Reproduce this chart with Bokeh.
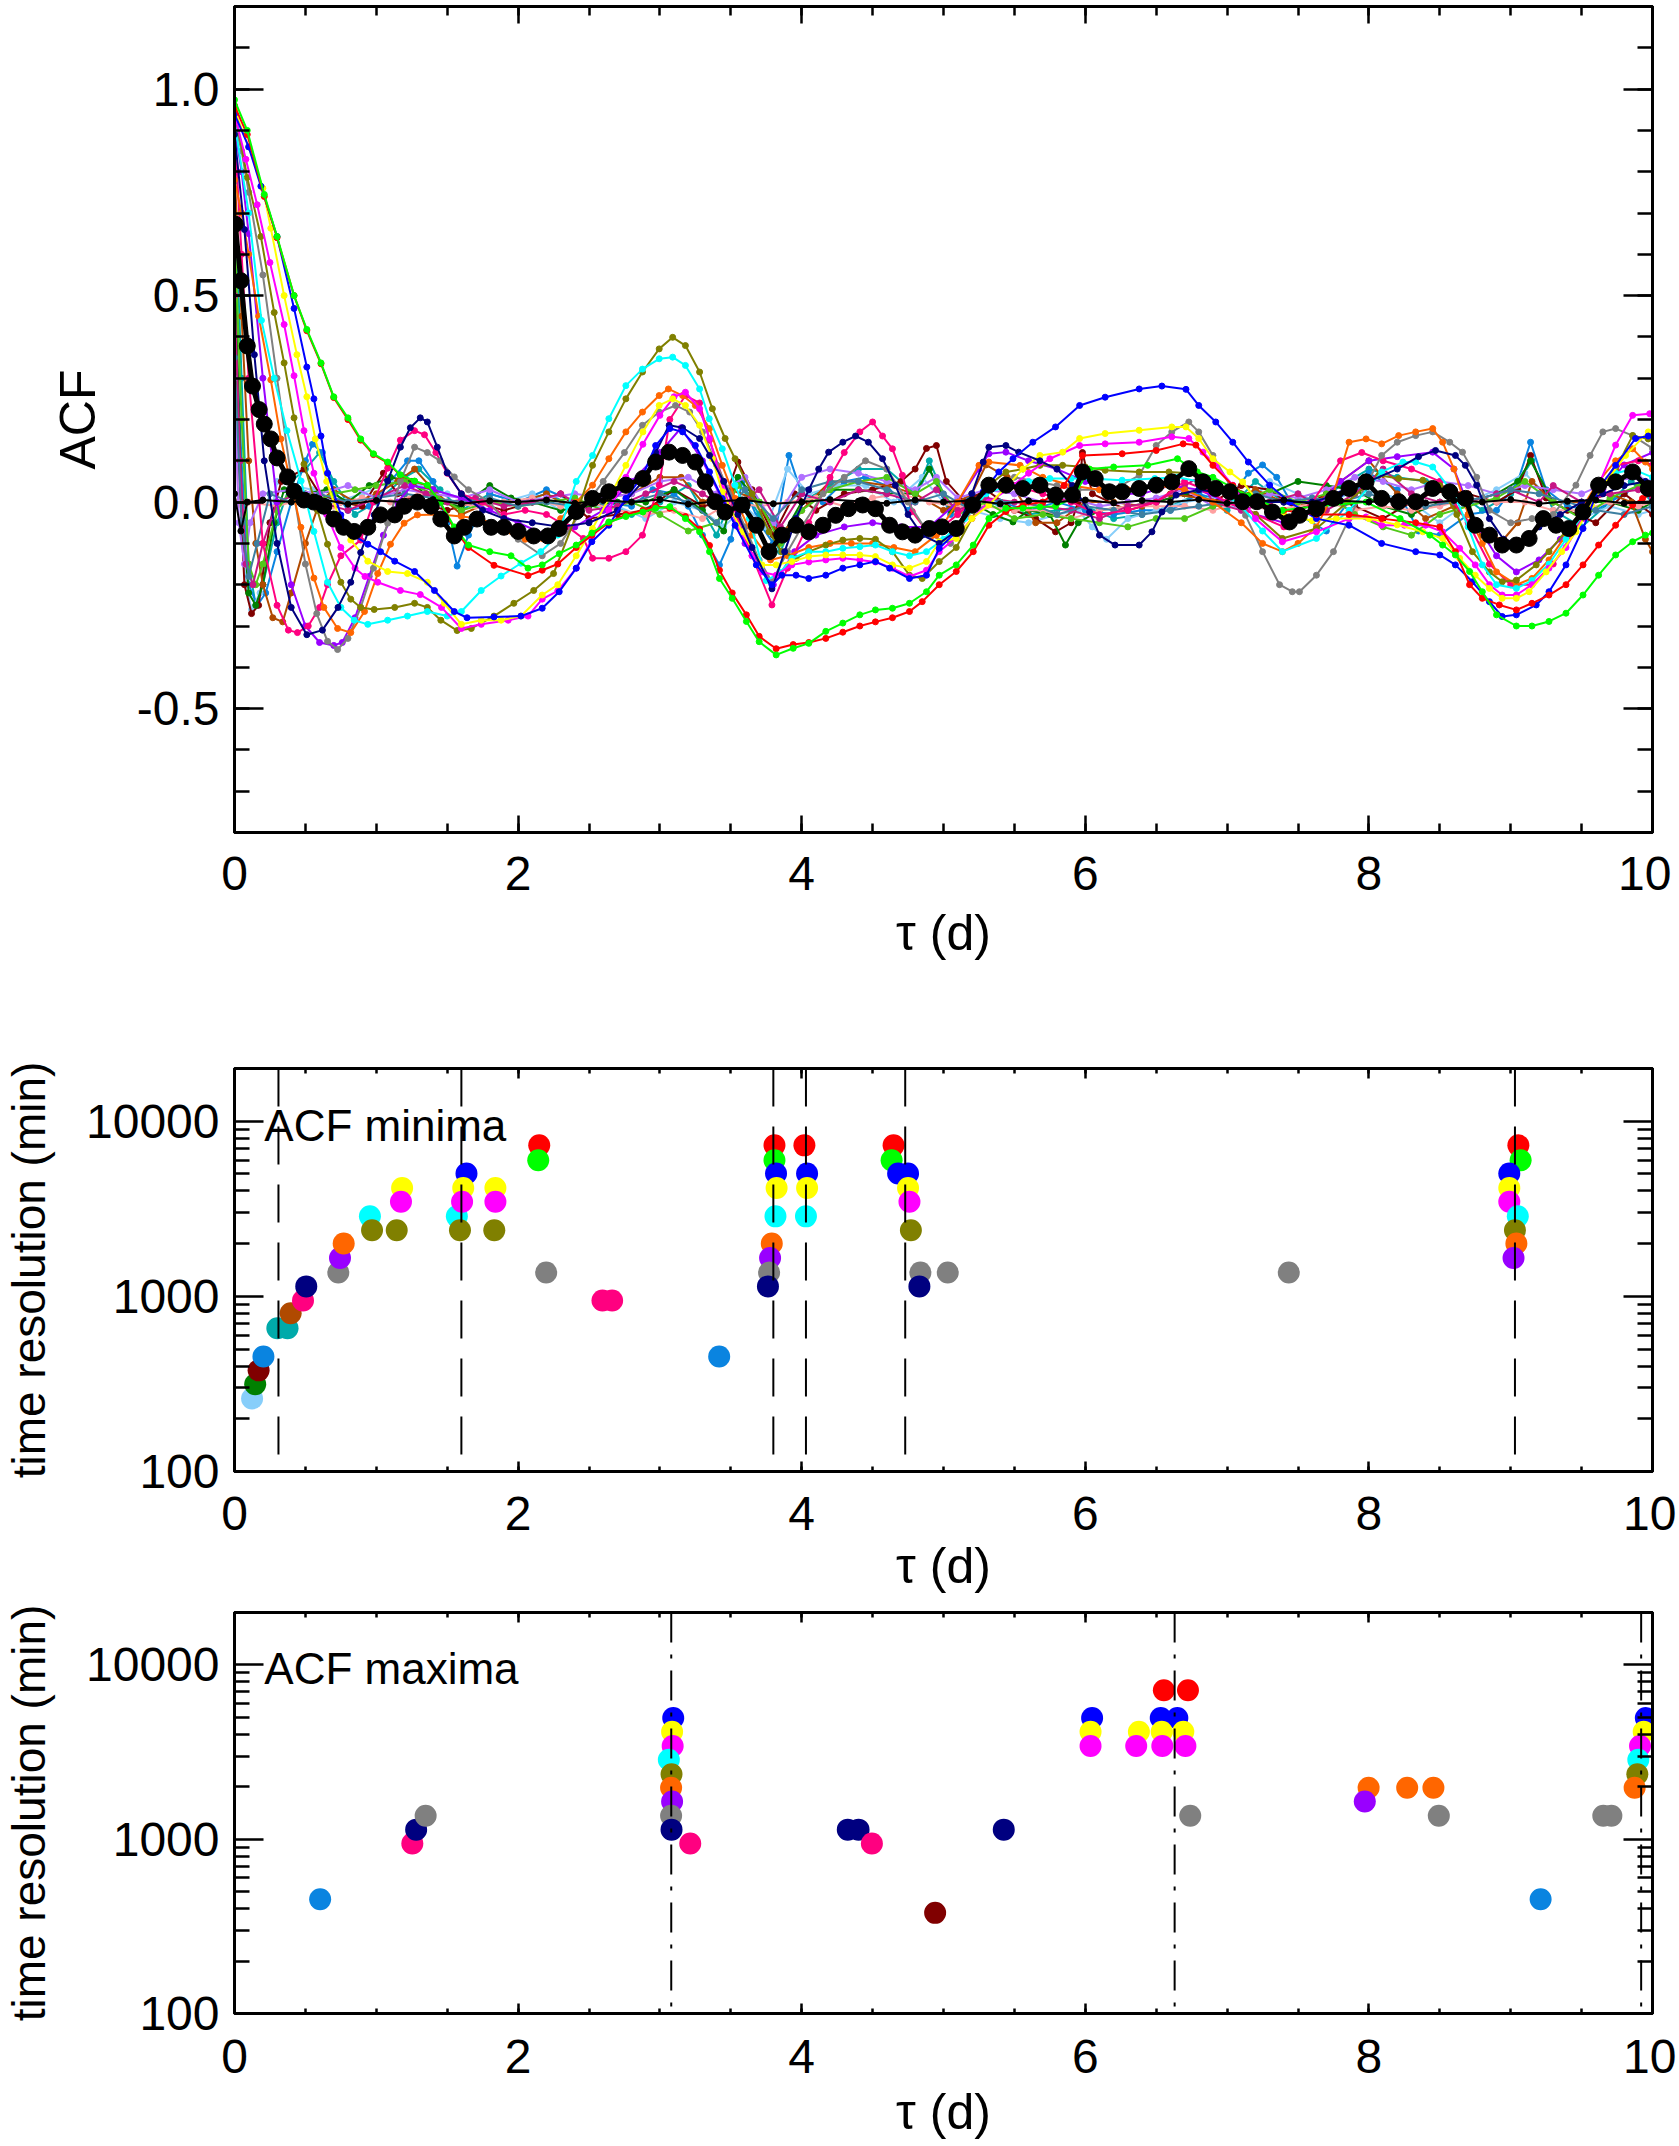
from bokeh.plotting import figure
from bokeh.layouts import column
from bokeh.models import FixedTicker, PrintfTickFormatter, LinearAxis, LogAxis, Span
from bokeh.core.properties import value
from bokeh.embed import file_html
from bokeh.resources import INLINE

FONT = "Liberation Sans"

COLORS = {
    "green": "#00FF00", "red": "#FF0000", "blue": "#0000FF", "navy": "#000080",
    "yellow": "#FFFF00", "magenta": "#FF00FF", "cyan": "#00FFFF", "olive": "#808000",
    "orange": "#FF6600", "gray": "#808080", "pink": "#FF0080", "purple": "#9900FF",
    "teal": "#00AAAA", "dodger": "#0A84E0", "skyblue": "#87CEFA", "maroon": "#800000",
    "darkgreen": "#008000", "brown": "#B04A00", "salmon": "#FFA0A0",
    "mpurple": "#B070FF", "ygreen": "#50C818", "mvred": "#C71585", "steel": "#3E7FA0",
    "black": "#000000",
}

# ---------------- ACF curves (tau [d], ACF) ----------------
green = [(0.0,0.974),(0.09,0.90),(0.21,0.745),(0.30,0.643),(0.42,0.50),(0.51,0.418),(0.61,0.337),(0.70,0.255),(0.80,0.204),(0.89,0.153),
         (0.98,0.117),(1.08,0.097),(1.17,0.066),(1.27,0.051),(1.36,0.041),(1.45,0.0),(1.55,-0.06),(1.65,-0.104),(1.80,-0.12),(1.95,-0.13),
         (2.07,-0.16),(2.17,-0.152),(2.29,-0.125),(2.41,-0.104),(2.52,-0.075),(2.64,-0.048),(2.76,-0.035),(2.88,-0.024),(2.97,-0.015),(3.07,-0.011),
         (3.18,-0.04),(3.28,-0.072),(3.35,-0.12),(3.42,-0.185),(3.51,-0.233),(3.61,-0.289),(3.70,-0.338),(3.82,-0.37),(3.94,-0.354),(4.05,-0.342),
         (4.17,-0.313),(4.29,-0.293),(4.41,-0.273),(4.52,-0.261),(4.64,-0.257),(4.76,-0.245),(4.88,-0.217),(4.97,-0.177),(5.09,-0.152),(5.21,-0.104),
         (5.32,-0.04),(5.44,-0.015),(5.56,-0.015),(5.68,-0.012),(5.79,-0.01),(5.91,0.01),(6.03,0.08),(6.20,0.085),(6.44,0.089),(6.65,0.105),
         (6.79,0.073),(6.90,0.06),(7.04,0.035),(7.15,0.015),(7.39,-0.02),(7.63,-0.01),(7.98,0.0),(8.22,-0.04),(8.43,-0.08),(8.52,-0.104),
         (8.61,-0.128),(8.71,-0.168),(8.80,-0.217),(8.90,-0.273),(9.04,-0.30),(9.15,-0.30),(9.27,-0.289),(9.39,-0.269),(9.51,-0.225),(9.62,-0.177),
         (9.74,-0.128),(9.86,-0.096),(9.95,-0.08),(10.0,-0.075)]
red = [(0.0,0.96),(0.09,0.89),(0.21,0.74),(0.30,0.64),(0.42,0.50),(0.51,0.415),(0.61,0.335),(0.70,0.253),(0.80,0.2),(0.89,0.15),(0.98,0.115),
       (1.08,0.095),(1.17,0.065),(1.27,0.05),(1.36,0.04),(1.45,0.0),(1.55,-0.065),(1.65,-0.11),(1.83,-0.153),(2.07,-0.178),(2.17,-0.165),
       (2.28,-0.15),(2.41,-0.11),(2.52,-0.08),(2.64,-0.05),(2.76,-0.03),(2.88,-0.02),(2.97,-0.01),(3.07,-0.015),(3.18,-0.035),(3.28,-0.065),
       (3.35,-0.105),(3.42,-0.165),(3.51,-0.22),(3.61,-0.273),(3.70,-0.325),(3.82,-0.355),(3.94,-0.345),(4.05,-0.34),(4.17,-0.33),(4.29,-0.315),
       (4.41,-0.30),(4.52,-0.29),(4.64,-0.28),(4.76,-0.265),(4.85,-0.241),(4.97,-0.2),(5.09,-0.168),(5.21,-0.12),(5.32,-0.056),(5.44,-0.023),
       (5.56,-0.007),(5.70,0.0),(5.85,0.04),(5.98,0.113),(6.26,0.117),(6.50,0.125),(6.69,0.141),(6.78,0.138),(6.90,0.089),(7.04,0.04),
       (7.20,0.0),(7.40,-0.02),(7.63,-0.03),(7.86,-0.03),(8.09,-0.04),(8.33,-0.05),(8.50,-0.06),(8.61,-0.12),(8.71,-0.2),(8.80,-0.233),
       (8.92,-0.249),(9.04,-0.261),(9.15,-0.245),(9.27,-0.225),(9.39,-0.2),(9.51,-0.152),(9.62,-0.104),(9.74,-0.056),(9.86,-0.007),(9.93,0.009),(10.0,0.02)]
blue = [(0.0,0.94),(0.1,0.86),(0.186,0.765),(0.30,0.643),(0.42,0.469),(0.51,0.327),(0.56,0.25),(0.61,0.16),(0.656,0.07),(0.75,-0.031),
        (0.844,-0.082),(0.94,-0.102),(1.03,-0.12),(1.13,-0.143),(1.27,-0.168),(1.41,-0.214),(1.55,-0.265),(1.64,-0.28),(1.83,-0.278),(2.02,-0.276),
        (2.17,-0.257),(2.29,-0.217),(2.41,-0.16),(2.52,-0.096),(2.64,-0.056),(2.76,0.009),(2.88,0.065),(2.97,0.137),(3.07,0.178),(3.16,0.17),
        (3.25,0.137),(3.35,0.073),(3.44,0.009),(3.53,-0.056),(3.68,-0.152),(3.79,-0.2),(3.86,-0.177),(3.96,-0.177),(4.05,-0.185),(4.17,-0.177),
        (4.29,-0.16),(4.41,-0.152),(4.52,-0.144),(4.62,-0.16),(4.76,-0.185),(4.88,-0.177),(4.97,-0.112),(5.09,-0.072),(5.20,-0.01),(5.28,0.025),
        (5.39,0.073),(5.49,0.105),(5.63,0.145),(5.79,0.182),(5.96,0.234),(6.14,0.254),(6.38,0.274),(6.54,0.281),(6.71,0.273),(6.80,0.234),
        (6.92,0.194),(7.04,0.145),(7.15,0.097),(7.30,0.041),(7.44,0.0),(7.63,-0.04),(7.86,-0.056),(8.09,-0.1),(8.33,-0.12),(8.50,-0.128),
        (8.61,-0.152),(8.73,-0.193),(8.85,-0.241),(8.94,-0.277),(9.04,-0.273),(9.18,-0.249),(9.27,-0.217),(9.39,-0.152),(9.51,-0.064),(9.62,0.033),
        (9.74,0.089),(9.88,0.154),(9.97,0.16)]
navy = [(0.0,0.89),(0.07,0.66),(0.14,0.357),(0.21,0.10),(0.30,-0.10),(0.40,-0.255),(0.51,-0.321),(0.62,-0.31),(0.73,-0.255),(0.82,-0.194),
        (0.89,-0.122),(0.985,-0.031),(1.08,0.051),(1.17,0.133),(1.24,0.18),(1.31,0.204),(1.36,0.194),(1.43,0.133),(1.50,0.071),(1.60,0.02),
        (1.75,-0.02),(1.90,-0.04),(2.1,-0.05),(2.3,-0.06),(2.5,-0.05),(2.7,-0.02),(2.88,0.05),(2.97,0.12),(3.065,0.186),(3.16,0.18),
        (3.28,0.154),(3.35,0.113),(3.45,0.05),(3.55,-0.03),(3.65,-0.11),(3.79,-0.21),(3.88,-0.12),(3.96,-0.04),(4.05,0.03),(4.12,0.08),
        (4.19,0.121),(4.29,0.145),(4.38,0.16),(4.47,0.145),(4.57,0.105),(4.66,0.041),(4.75,-0.03),(4.85,-0.08),(4.97,-0.1),(5.09,-0.07),
        (5.20,0.02),(5.28,0.097),(5.32,0.133),(5.44,0.137),(5.53,0.121),(5.68,0.1),(5.80,0.08),(5.91,0.04),(6.03,-0.024),(6.10,-0.08),
        (6.21,-0.104),(6.38,-0.104),(6.47,-0.072),(6.54,-0.024),(6.64,0.017),(6.8,0.03),(7.0,0.02),(7.2,0.0),(7.4,0.0),(7.6,0.0),
        (7.8,0.02),(8.0,0.05),(8.2,0.08),(8.35,0.11),(8.47,0.125),(8.61,0.113),(8.68,0.089),(8.76,0.041),(8.85,-0.04),(8.95,-0.09),
        (9.05,-0.1),(9.2,-0.06),(9.35,-0.03),(9.5,0.0),(9.65,0.02),(9.8,0.04),(9.95,0.05)]
yellow = [(0.0,0.95),(0.1,0.86),(0.2,0.76),(0.256,0.663),(0.35,0.50),(0.44,0.357),(0.51,0.255),(0.57,0.153),(0.65,0.05),(0.73,-0.03),
          (0.82,-0.092),(0.94,-0.143),(1.08,-0.168),(1.22,-0.173),(1.36,-0.194),(1.48,-0.245),(1.60,-0.296),(1.74,-0.286),(1.88,-0.286),(2.02,-0.276),
          (2.17,-0.225),(2.28,-0.2),(2.41,-0.13),(2.525,-0.064),(2.64,0.009),(2.76,0.089),(2.88,0.17),(2.995,0.234),(3.09,0.25),(3.18,0.234),
          (3.28,0.186),(3.37,0.105),(3.44,0.025),(3.58,-0.072),(3.72,-0.152),(3.82,-0.152),(3.93,-0.144),(4.05,-0.132),(4.17,-0.128),(4.29,-0.128),
          (4.41,-0.128),(4.52,-0.132),(4.64,-0.152),(4.76,-0.16),(4.88,-0.144),(4.97,-0.096),(5.09,-0.088),(5.2,-0.04),(5.32,-0.007),(5.45,0.04),
          (5.56,0.08),(5.68,0.113),(5.84,0.121),(5.96,0.154),(6.14,0.166),(6.38,0.174),(6.61,0.182),(6.71,0.182),(6.80,0.154),(6.90,0.105),
          (7.02,0.073),(7.11,0.049),(7.2,0.009),(7.4,-0.03),(7.6,-0.045),(7.77,-0.04),(8.0,-0.04),(8.2,-0.055),(8.38,-0.072),(8.52,-0.088),
          (8.64,-0.136),(8.75,-0.177),(8.85,-0.209),(8.94,-0.233),(9.04,-0.233),(9.13,-0.217),(9.25,-0.169),(9.36,-0.12),(9.46,-0.072),(9.57,-0.007),
          (9.69,0.057),(9.81,0.113),(9.97,0.17)]
magenta = [(0.0,0.94),(0.08,0.83),(0.16,0.72),(0.25,0.58),(0.35,0.43),(0.42,0.306),(0.49,0.173),(0.56,0.07),(0.65,-0.03),(0.75,-0.11),
           (0.85,-0.16),(0.92,-0.18),(1.01,-0.194),(1.17,-0.214),(1.31,-0.224),(1.46,-0.255),(1.60,-0.306),(1.74,-0.296),(1.93,-0.286),(2.07,-0.276),
           (2.17,-0.235),(2.28,-0.215),(2.41,-0.16),(2.52,-0.09),(2.64,-0.02),(2.76,0.06),(2.88,0.14),(3.0,0.21),(3.1,0.255),(3.18,0.266),
           (3.28,0.226),(3.35,0.154),(3.44,0.04),(3.55,-0.06),(3.65,-0.13),(3.72,-0.169),(3.82,-0.177),(3.93,-0.152),(4.05,-0.145),(4.17,-0.14),
           (4.29,-0.136),(4.41,-0.14),(4.52,-0.145),(4.64,-0.16),(4.76,-0.18),(4.88,-0.165),(4.97,-0.12),(5.09,-0.085),(5.2,-0.04),(5.32,0.0),
           (5.45,0.03),(5.6,0.07),(5.75,0.105),(5.96,0.137),(6.14,0.141),(6.38,0.145),(6.61,0.158),(6.73,0.154),(6.83,0.121),(6.92,0.089),
           (7.04,0.041),(7.2,-0.04),(7.39,-0.096),(7.63,-0.072),(7.86,-0.04),(7.98,-0.036),(8.09,-0.056),(8.25,-0.056),(8.40,-0.056),(8.52,-0.072),
           (8.64,-0.112),(8.75,-0.152),(8.85,-0.2),(8.94,-0.225),(9.04,-0.225),(9.15,-0.2),(9.27,-0.16),(9.39,-0.11),(9.51,-0.04),(9.62,0.041),
           (9.74,0.138),(9.86,0.21),(9.98,0.214)]
cyan = [(0.0,0.92),(0.1,0.70),(0.19,0.44),(0.28,0.30),(0.37,0.173),(0.47,0.051),(0.56,-0.071),(0.656,-0.194),(0.75,-0.255),(0.844,-0.286),
        (0.94,-0.296),(1.08,-0.286),(1.22,-0.276),(1.36,-0.265),(1.50,-0.276),(1.60,-0.265),(1.74,-0.214),(1.88,-0.179),(2.02,-0.148),(2.16,-0.12),
        (2.28,-0.08),(2.35,-0.01),(2.41,0.05),(2.525,0.113),(2.64,0.202),(2.76,0.282),(2.877,0.322),(2.995,0.347),(3.09,0.351),(3.18,0.331),
        (3.28,0.274),(3.348,0.202),(3.44,0.129),(3.53,0.041),(3.63,-0.04),(3.75,-0.19),(3.85,-0.17),(3.93,-0.136),(4.05,-0.12),(4.17,-0.12),
        (4.29,-0.112),(4.41,-0.108),(4.52,-0.104),(4.64,-0.12),(4.76,-0.13),(4.88,-0.12),(5.0,-0.09),(5.15,-0.04),(5.3,0.02),(5.45,0.04),
        (5.6,0.05),(5.75,0.057),(5.9,0.057),(6.03,0.057),(6.26,0.053),(6.49,0.057),(6.65,0.06),(6.8,0.05),(6.95,0.03),(7.1,-0.01),
        (7.25,-0.07),(7.39,-0.12),(7.63,-0.088),(7.86,-0.02),(8.09,0.073),(8.24,0.097),(8.33,0.097),(8.45,0.085),(8.6,0.02),(8.70,-0.06),
        (8.80,-0.152),(8.90,-0.2),(9.04,-0.209),(9.15,-0.19),(9.27,-0.15),(9.39,-0.09),(9.51,-0.03),(9.62,0.03),(9.74,0.07),(9.86,0.08),(10.0,0.06)]
olive = [(0.0,0.95),(0.09,0.786),(0.186,0.643),(0.28,0.459),(0.35,0.337),(0.42,0.204),(0.49,0.092),(0.585,-0.02),(0.656,-0.102),(0.75,-0.194),
         (0.82,-0.235),(0.89,-0.255),(0.985,-0.26),(1.13,-0.255),(1.27,-0.245),(1.36,-0.255),(1.455,-0.286),(1.57,-0.311),(1.67,-0.306),(1.83,-0.276),
         (1.97,-0.245),(2.11,-0.214),(2.25,-0.173),(2.41,-0.032),(2.525,0.089),(2.64,0.17),(2.76,0.25),(2.877,0.315),(2.995,0.371),(3.09,0.399),
         (3.18,0.379),(3.28,0.315),(3.37,0.226),(3.46,0.154),(3.53,0.105),(3.65,0.02),(3.77,-0.072),(3.86,-0.12),(3.96,-0.136),(4.05,-0.12),
         (4.17,-0.104),(4.29,-0.092),(4.41,-0.088),(4.52,-0.09),(4.64,-0.12),(4.76,-0.177),(4.85,-0.185),(4.97,-0.144),(5.09,-0.11),(5.2,-0.04),
         (5.32,0.041),(5.44,0.073),(5.56,0.08),(5.68,0.089),(5.84,0.089),(6.0,0.085),(6.14,0.077),(6.38,0.073),(6.59,0.073),(6.73,0.07),
         (6.85,0.05),(7.0,0.02),(7.2,-0.03),(7.39,-0.088),(7.63,-0.064),(7.85,0.0),(8.07,0.065),(8.21,0.057),(8.38,0.053),(8.5,0.04),
         (8.62,-0.03),(8.73,-0.12),(8.85,-0.169),(8.94,-0.193),(9.04,-0.189),(9.18,-0.152),(9.27,-0.12),(9.39,-0.07),(9.51,-0.02),(9.62,0.03),
         (9.74,0.08),(9.86,0.161),(9.97,0.153)]
orange = [(0.0,0.78),(0.05,0.7),(0.1,0.6),(0.17,0.45),(0.256,0.296),(0.327,0.153),(0.40,0.041),(0.468,-0.061),(0.56,-0.184),(0.63,-0.255),
          (0.727,-0.306),(0.82,-0.316),(0.917,-0.265),(1.01,-0.173),(1.10,-0.102),(1.196,-0.051),(1.29,-0.031),(1.45,-0.03),(1.6,-0.035),(1.74,-0.04),
          (1.9,-0.07),(2.05,-0.09),(2.17,-0.088),(2.3,-0.04),(2.41,0.0),(2.525,0.041),(2.64,0.105),(2.76,0.17),(2.877,0.218),(2.995,0.258),
          (3.06,0.274),(3.16,0.258),(3.25,0.234),(3.35,0.178),(3.44,0.089),(3.53,0.009),(3.65,-0.08),(3.78,-0.14),(3.9,-0.13),(4.05,-0.11),
          (4.2,-0.1),(4.35,-0.1),(4.5,-0.1),(4.65,-0.11),(4.8,-0.12),(4.95,-0.08),(5.1,0.0),(5.25,0.089),(5.32,0.097),(5.54,0.089),
          (5.7,0.06),(5.9,0.04),(6.1,0.03),(6.3,0.03),(6.5,0.04),(6.7,0.03),(6.9,0.0),(7.1,-0.05),(7.25,-0.1),(7.39,-0.12),
          (7.5,-0.1),(7.63,-0.06),(7.75,0.02),(7.86,0.145),(7.98,0.153),(8.09,0.141),(8.21,0.161),(8.33,0.17),(8.45,0.178),(8.52,0.145),
          (8.6,0.08),(8.7,-0.03),(8.8,-0.1),(8.9,-0.169),(9.04,-0.2),(9.15,-0.185),(9.27,-0.14),(9.39,-0.08),(9.51,-0.01),(9.62,0.05),
          (9.74,0.1),(9.86,0.129),(9.95,0.097),(10.0,0.08)]
gray = [(0.0,0.92),(0.05,0.85),(0.1,0.75),(0.2,0.55),(0.3,0.3),(0.4,0.06),(0.5,-0.15),(0.58,-0.27),(0.656,-0.337),(0.727,-0.357),
        (0.8,-0.33),(0.89,-0.255),(0.98,-0.16),(1.08,-0.051),(1.17,0.05),(1.27,0.133),(1.36,0.12),(1.45,0.1),(1.55,0.061),(1.65,0.03),
        (1.8,0.0),(2.0,-0.09),(2.17,-0.13),(2.3,-0.1),(2.45,-0.02),(2.6,0.05),(2.75,0.12),(2.877,0.186),(2.995,0.218),(3.11,0.234),
        (3.21,0.218),(3.30,0.17),(3.4,0.09),(3.5,0.02),(3.6,-0.06),(3.7,-0.14),(3.79,-0.193),(3.9,-0.12),(4.0,-0.06),(4.15,0.02),
        (4.3,0.06),(4.45,0.1),(4.6,0.08),(4.75,0.0),(4.9,-0.08),(5.05,-0.1),(5.2,-0.02),(5.35,0.04),(5.5,0.06),(5.65,0.05),
        (5.8,0.04),(5.95,0.03),(6.1,0.03),(6.25,0.04),(6.38,0.065),(6.50,0.137),(6.61,0.17),(6.73,0.194),(6.80,0.17),(6.90,0.113),
        (7.02,0.041),(7.13,-0.032),(7.25,-0.12),(7.37,-0.2),(7.46,-0.217),(7.51,-0.217),(7.63,-0.177),(7.75,-0.12),(7.86,-0.04),(7.98,0.041),
        (8.09,0.113),(8.2,0.145),(8.33,0.161),(8.45,0.17),(8.57,0.145),(8.66,0.121),(8.76,0.06),(8.85,-0.02),(9.0,-0.05),(9.15,-0.04),
        (9.3,-0.03),(9.46,0.041),(9.56,0.113),(9.65,0.17),(9.74,0.178),(9.86,0.161),(10.0,0.13)]
pink = [(0.0,0.9),(0.05,0.6),(0.1,0.3),(0.2,-0.1),(0.3,-0.25),(0.38,-0.31),(0.444,-0.316),(0.52,-0.3),(0.6,-0.255),(0.656,-0.2),
        (0.75,-0.13),(0.89,-0.092),(0.98,0.0),(1.08,0.082),(1.17,0.15),(1.27,0.173),(1.34,0.163),(1.42,0.12),(1.5,0.07),(1.6,0.02),
        (1.75,0.0),(1.9,-0.03),(2.05,-0.02),(2.2,-0.03),(2.35,-0.06),(2.46,-0.088),(2.525,-0.136),(2.64,-0.136),(2.76,-0.12),(2.877,-0.08),
        (2.995,0.041),(3.07,0.2),(3.18,0.258),(3.28,0.24),(3.35,0.15),(3.45,0.05),(3.55,-0.04),(3.65,-0.13),(3.79,-0.249),(3.9,-0.16),
        (4.05,-0.05),(4.2,0.06),(4.3,0.12),(4.41,0.17),(4.50,0.194),(4.57,0.16),(4.64,0.129),(4.71,0.065),(4.78,-0.023),(4.88,-0.07),
        (4.99,-0.06),(5.1,-0.03),(5.3,0.03),(5.5,0.04),(5.7,0.02),(5.9,0.0),(6.1,-0.03),(6.3,-0.02),(6.5,0.0),(6.7,0.05),
        (6.85,0.03),(7.0,0.0),(7.2,-0.03),(7.4,-0.06),(7.6,0.0),(7.8,0.1),(7.95,0.12),(8.1,0.1),(8.3,0.08),(8.5,0.05),
        (8.7,-0.05),(8.85,-0.15),(9.0,-0.2),(9.15,-0.2),(9.3,-0.15),(9.45,-0.07),(9.6,0.02),(9.75,0.09),(9.9,0.1),(10.0,0.09)]
purple = [(0.0,0.91),(0.05,0.8),(0.1,0.65),(0.2,0.3),(0.3,0.0),(0.4,-0.2),(0.5,-0.3),(0.6,-0.34),(0.7,-0.347),(0.76,-0.34),
          (0.85,-0.28),(0.95,-0.18),(1.05,-0.08),(1.15,0.0),(1.25,0.04),(1.4,0.03),(1.6,0.01),(1.8,-0.02),(2.0,-0.05),(2.2,-0.08),
          (2.4,-0.06),(2.6,-0.02),(2.8,0.05),(3.0,0.12),(3.15,0.18),(3.3,0.1),(3.45,0.0),(3.6,-0.1),(3.8,-0.2),(3.95,-0.12),
          (4.1,-0.08),(4.3,-0.06),(4.5,-0.05),(4.7,-0.06),(4.9,-0.06),(5.1,0.0),(5.25,0.08),(5.32,0.117),(5.44,0.121),(5.6,0.1),
          (5.8,0.08),(6.0,0.05),(6.2,0.02),(6.4,0.02),(6.6,0.04),(6.8,0.03),(7.0,0.0),(7.2,-0.03),(7.4,-0.05),(7.6,-0.02),
          (7.8,0.05),(8.0,0.1),(8.2,0.11),(8.45,0.121),(8.6,0.08),(8.75,-0.05),(8.9,-0.13),(9.04,-0.169),(9.2,-0.14),(9.35,-0.09),
          (9.5,-0.04),(9.65,0.03),(9.8,0.09),(10.0,0.12)]

# near-zero, fast-decorrelating curves
teal = [(0.0,0.776),(0.05,0.3),(0.1,-0.15),(0.15,-0.25),(0.2,-0.2),(0.3,-0.05),(0.4,0.05),(0.5,0.08),(0.6,0.12),(0.7,0.05),(0.85,-0.03),(1.0,0.0),
        (1.2,0.06),(1.3,0.08),(1.45,0.03),(1.6,-0.02),(1.8,0.02),(2.0,0.0),(2.2,0.02),(2.4,-0.01),(2.6,0.01),(2.8,-0.03),(3.0,0.0),(3.2,0.04),
        (3.4,-0.08),(3.55,0.05),(3.7,-0.03),(3.85,-0.12),(4.0,0.0),(4.2,0.04),(4.4,0.08),(4.6,0.08),(4.8,0.02),(4.9,0.1),(5.05,-0.02),(5.2,0.02),
        (5.4,-0.01),(5.6,-0.03),(5.8,-0.02),(6.0,-0.01),(6.2,-0.04),(6.4,-0.03),(6.6,-0.01),(6.8,0.02),(7.0,-0.02),(7.2,0.05),(7.4,0.0),(7.6,-0.01),
        (7.8,0.04),(8.0,0.08),(8.2,0.06),(8.4,0.05),(8.6,0.03),(8.8,-0.02),(9.0,0.02),(9.15,0.1),(9.3,-0.02),(9.5,-0.06),(9.7,0.0),(9.85,0.05),(10.0,0.0)]
dodger = [(0.0,0.48),(0.05,0.1),(0.1,-0.2),(0.16,-0.25),(0.22,-0.22),(0.3,-0.12),(0.4,0.0),(0.5,0.1),(0.55,0.14),(0.62,0.12),(0.7,0.03),(0.8,-0.02),
          (0.95,-0.01),(1.1,0.05),(1.22,0.1),(1.3,0.1),(1.4,0.05),(1.5,-0.05),(1.57,-0.155),(1.65,-0.08),(1.8,0.02),(2.0,0.0),(2.2,0.03),(2.4,0.0),
          (2.6,0.0),(2.8,-0.01),(2.95,0.03),(3.1,0.02),(3.2,-0.01),(3.3,-0.08),(3.42,-0.152),(3.5,-0.09),(3.58,0.05),(3.7,-0.05),(3.8,-0.1),(3.91,0.113),
          (4.0,0.02),(4.15,0.0),(4.3,0.05),(4.45,0.06),(4.6,0.04),(4.75,-0.02),(4.9,0.08),(5.05,-0.03),(5.2,0.02),(5.4,0.0),(5.6,-0.02),(5.8,0.0),
          (6.0,-0.02),(6.2,-0.03),(6.4,-0.02),(6.6,-0.02),(6.8,0.02),(7.0,0.0),(7.15,0.07),(7.25,0.09),(7.35,0.06),(7.5,-0.03),(7.7,-0.07),(7.9,0.02),
          (8.0,0.07),(8.2,0.03),(8.35,-0.07),(8.5,-0.08),(8.7,-0.03),(8.9,-0.02),(9.05,0.05),(9.14,0.145),(9.25,0.03),(9.4,-0.01),(9.6,-0.02),(9.8,0.02),
          (9.95,0.05),(10.0,-0.02)]
skyblue = [(0.0,0.45),(0.04,0.0),(0.08,-0.2),(0.12,-0.26),(0.18,-0.22),(0.25,-0.05),(0.3,0.05),(0.4,0.04),(0.55,0.03),(0.7,0.0),(0.9,0.02),(1.1,0.05),
           (1.3,0.04),(1.5,0.02),(1.7,0.0),(1.9,0.0),(2.1,0.02),(2.3,-0.02),(2.5,-0.01),(2.7,-0.01),(2.9,-0.04),(3.1,0.0),(3.3,-0.02),(3.45,-0.06),
           (3.6,-0.01),(3.75,-0.06),(3.9,0.08),(4.05,0.02),(4.25,0.04),(4.45,0.04),(4.65,0.0),(4.85,0.06),(5.0,0.0),(5.2,-0.02),(5.4,-0.04),(5.6,-0.05),
           (5.8,-0.03),(5.95,-0.02),(6.05,-0.06),(6.15,-0.09),(6.3,-0.04),(6.5,-0.02),(6.7,0.0),(6.9,0.01),(7.1,-0.02),(7.3,0.05),(7.5,0.02),(7.7,-0.01),
           (7.9,0.03),(8.1,0.02),(8.3,0.0),(8.5,-0.05),(8.7,0.0),(8.9,0.03),(9.1,0.07),(9.3,0.0),(9.5,-0.04),(9.7,-0.01),(9.9,-0.03),(10.0,-0.02)]
maroon = [(0.0,0.55),(0.03,0.1),(0.07,-0.2),(0.12,-0.27),(0.17,-0.25),(0.25,-0.05),(0.33,0.05),(0.49,0.08),(0.6,0.02),(0.75,0.0),(0.9,-0.01),(1.05,0.07),
          (1.15,0.02),(1.3,0.0),(1.5,-0.02),(1.7,0.0),(1.9,-0.02),(2.1,0.0),(2.3,0.02),(2.5,-0.04),(2.7,-0.03),(2.9,-0.02),(3.1,0.03),(3.3,-0.01),
          (3.45,0.0),(3.55,0.097),(3.65,0.03),(3.8,-0.08),(3.95,0.02),(4.1,-0.02),(4.3,0.02),(4.5,0.03),(4.7,0.05),(4.8,0.08),(4.88,0.13),(4.95,0.137),
          (5.02,0.05),(5.15,0.0),(5.3,0.03),(5.5,-0.02),(5.65,-0.04),(5.79,-0.072),(5.9,-0.05),(5.95,0.0),(5.98,0.12),(6.05,0.02),(6.3,-0.02),(6.5,0.0),
          (6.7,0.02),(6.9,0.0),(7.1,0.04),(7.3,0.03),(7.5,-0.02),(7.7,0.02),(7.9,-0.01),(8.1,-0.04),(8.3,0.0),(8.5,0.03),(8.7,0.02),(8.9,0.0),
          (9.05,0.03),(9.14,0.113),(9.25,0.01),(9.4,-0.02),(9.6,-0.05),(9.8,0.02),(10.0,-0.03)]
darkgreen = [(0.0,0.6),(0.05,0.0),(0.1,-0.22),(0.15,-0.25),(0.2,-0.2),(0.28,-0.05),(0.35,0.03),(0.5,0.02),(0.65,0.03),(0.8,0.0),(0.95,0.04),(1.1,0.06),
             (1.25,0.05),(1.4,0.0),(1.6,-0.01),(1.8,0.04),(1.95,0.01),(2.1,0.0),(2.3,-0.02),(2.5,-0.01),(2.7,0.0),(2.9,0.0),(3.1,0.03),(3.3,-0.02),
             (3.45,-0.07),(3.55,0.06),(3.7,0.0),(3.85,-0.09),(4.0,0.0),(4.2,0.03),(4.4,0.03),(4.6,0.02),(4.8,0.02),(4.9,0.08),(5.05,-0.02),(5.2,0.0),
             (5.35,-0.03),(5.49,-0.048),(5.6,-0.02),(5.75,-0.03),(5.86,-0.104),(5.95,-0.05),(6.1,-0.02),(6.3,-0.01),(6.5,0.0),(6.7,0.02),(6.9,0.03),(7.1,0.02),
             (7.3,0.02),(7.5,0.05),(7.7,0.04),(7.9,0.03),(8.1,-0.01),(8.3,-0.03),(8.5,0.0),(8.7,0.0),(8.9,0.02),(9.05,0.05),(9.14,0.1),(9.3,0.0),
             (9.5,0.0),(9.7,0.0),(9.9,-0.02),(10.0,0.0)]
brown = [(0.0,0.8),(0.05,0.45),(0.1,0.1),(0.15,-0.1),(0.2,-0.2),(0.27,-0.28),(0.34,-0.29),(0.4,-0.22),(0.5,-0.1),(0.6,0.0),(0.7,0.03),(0.85,0.0),
         (1.0,0.02),(1.15,0.05),(1.27,0.08),(1.4,0.03),(1.6,-0.03),(1.8,0.0),(2.0,0.0),(2.2,0.02),(2.4,-0.02),(2.6,0.01),(2.8,0.02),(3.0,0.06),
         (3.15,0.06),(3.3,0.0),(3.5,0.03),(3.65,0.01),(3.85,-0.08),(4.0,-0.02),(4.2,0.05),(4.4,0.05),(4.6,0.04),(4.8,0.02),(5.0,-0.02),(5.2,0.02),
         (5.3,0.09),(5.45,0.06),(5.65,-0.05),(5.8,-0.05),(6.0,0.0),(6.2,0.0),(6.4,-0.01),(6.6,0.02),(6.8,0.01),(7.0,0.0),(7.2,0.03),(7.4,0.0),
         (7.6,-0.01),(7.8,0.05),(8.0,0.1),(8.2,0.02),(8.4,-0.04),(8.6,-0.01),(8.8,-0.08),(8.95,-0.09),(9.05,-0.05),(9.15,0.05),(9.3,0.0),(9.5,0.0),
         (9.7,0.02),(9.85,0.0),(9.95,-0.09),(10.0,-0.12)]
salmon = [(0.0,0.2),(0.03,0.0),(0.06,-0.03),(0.1,0.0),(0.3,-0.01),(0.5,0.01),(0.7,-0.01),(0.9,0.01),(1.1,0.0),(1.3,0.02),(1.5,0.0),(1.7,-0.01),
          (1.9,0.0),(2.1,0.01),(2.3,-0.01),(2.5,0.0),(2.7,-0.02),(2.9,-0.03),(3.1,-0.02),(3.3,-0.04),(3.5,0.0),(3.7,-0.01),(3.9,0.0),(4.1,0.01),
          (4.3,-0.01),(4.5,0.01),(4.7,0.02),(4.9,0.0),(5.1,-0.01),(5.3,-0.01),(5.5,-0.02),(5.7,-0.02),(5.9,-0.04),(6.1,-0.02),(6.3,-0.01),(6.5,-0.01),
          (6.7,-0.01),(6.9,-0.02),(7.1,0.0),(7.3,-0.02),(7.5,-0.01),(7.7,0.0),(7.9,-0.02),(8.1,-0.01),(8.3,-0.02),(8.5,-0.01),(8.7,0.01),(8.9,0.0),
          (9.1,0.0),(9.3,-0.02),(9.5,-0.02),(9.7,0.0),(9.9,-0.01),(10.0,0.0)]
mpurple = [(0.0,0.3),(0.03,-0.05),(0.07,-0.15),(0.11,-0.05),(0.2,0.02),(0.4,0.03),(0.6,0.02),(0.8,0.04),(1.0,0.01),(1.2,0.03),(1.4,0.02),(1.6,0.01),
           (1.8,0.03),(2.0,0.0),(2.2,0.01),(2.4,0.02),(2.6,0.01),(2.8,0.02),(3.0,0.05),(3.2,0.06),(3.4,0.02),(3.6,0.06),(3.8,-0.05),(4.0,0.06),
           (4.2,0.08),(4.4,0.07),(4.6,0.05),(4.8,0.03),(4.95,0.06),(5.1,0.01),(5.3,0.03),(5.5,0.02),(5.7,0.0),(5.9,0.01),(6.1,-0.01),(6.3,0.0),
           (6.5,0.01),(6.7,0.03),(6.9,-0.01),(7.1,0.0),(7.3,0.02),(7.5,0.01),(7.7,0.03),(7.9,0.06),(8.1,0.05),(8.3,0.03),(8.5,0.05),(8.7,0.04),
           (8.9,0.02),(9.1,0.04),(9.3,0.03),(9.5,0.02),(9.7,0.05),(9.9,0.06),(10.0,0.05)]
ygreen = [(0.0,0.66),(0.05,0.2),(0.1,-0.15),(0.15,-0.2),(0.2,-0.15),(0.3,-0.02),(0.4,0.03),(0.55,0.0),(0.7,0.02),(0.85,0.03),(1.0,0.04),(1.2,0.05),
          (1.4,0.02),(1.6,-0.02),(1.8,0.0),(2.0,-0.01),(2.2,0.0),(2.4,0.01),(2.6,-0.02),(2.8,0.0),(3.0,-0.03),(3.2,-0.07),(3.4,-0.05),(3.55,0.04),
          (3.7,0.0),(3.85,-0.1),(4.0,-0.02),(4.2,0.03),(4.4,0.05),(4.6,0.06),(4.8,0.02),(4.95,0.05),(5.1,-0.03),(5.3,0.0),(5.5,-0.04),(5.7,-0.03),
          (5.9,-0.04),(6.1,-0.05),(6.3,-0.06),(6.5,-0.04),(6.7,-0.04),(6.9,-0.01),(7.1,0.0),(7.3,0.03),(7.5,0.0),(7.7,0.02),(7.9,-0.03),(8.1,-0.06),
          (8.3,-0.08),(8.5,-0.03),(8.7,-0.01),(8.9,0.01),(9.1,0.05),(9.3,0.0),(9.5,-0.04),(9.7,0.01),(9.9,0.04),(10.0,0.02)]
mvred = [(0.0,0.5),(0.04,0.1),(0.08,-0.15),(0.13,-0.2),(0.2,-0.1),(0.3,0.0),(0.45,0.02),(0.6,0.0),(0.8,-0.02),(1.0,0.01),(1.2,0.04),(1.35,0.02),
         (1.5,0.0),(1.7,0.01),(1.9,-0.01),(2.1,0.0),(2.3,0.02),(2.5,-0.02),(2.7,-0.01),(2.9,0.02),(3.1,0.05),(3.3,0.02),(3.5,-0.02),(3.7,0.03),
         (3.85,-0.06),(4.0,0.02),(4.2,0.0),(4.4,0.03),(4.6,0.02),(4.8,0.0),(4.95,0.03),(5.1,-0.02),(5.3,0.01),(5.5,0.0),(5.7,-0.01),(5.9,-0.02),
         (6.1,-0.04),(6.3,-0.01),(6.5,0.0),(6.7,0.04),(6.8,0.06),(6.9,0.0),(7.1,-0.02),(7.3,0.0),(7.5,0.02),(7.7,-0.02),(7.9,0.02),(8.1,0.08),
         (8.3,0.02),(8.5,0.0),(8.7,0.0),(8.9,0.02),(9.0,0.03),(9.2,0.0),(9.3,0.04),(9.5,0.0),(9.7,0.02),(9.9,0.03),(10.0,0.01)]
steel = [(0.0,0.35),(0.05,-0.05),(0.1,-0.18),(0.16,-0.1),(0.25,0.02),(0.4,0.0),(0.6,0.02),(0.8,0.0),(1.0,0.01),(1.2,0.02),(1.4,0.01),(1.6,0.0),
         (1.8,0.01),(2.0,-0.01),(2.2,0.0),(2.4,-0.01),(2.6,0.0),(2.8,0.0),(3.0,0.02),(3.2,0.0),(3.4,-0.05),(3.6,0.03),(3.8,-0.04),(4.0,0.03),
         (4.2,0.05),(4.4,0.05),(4.6,0.03),(4.8,0.0),(5.0,0.02),(5.2,-0.02),(5.4,0.0),(5.6,0.0),(5.8,-0.03),(6.0,-0.01),(6.2,-0.02),(6.4,-0.03),
         (6.6,-0.02),(6.8,-0.01),(7.0,0.0),(7.2,0.02),(7.4,0.0),(7.6,0.01),(7.8,0.0),(8.0,0.02),(8.2,0.0),(8.4,-0.01),(8.6,0.0),(8.8,0.01),
         (9.0,0.03),(9.2,0.02),(9.4,0.0),(9.6,-0.02),(9.8,-0.03),(10.0,-0.01)]

acf_mean = [(0.005,0.673),(0.045,0.536),(0.09,0.378),(0.127,0.281),(0.174,0.224),(0.21,0.189),(0.256,0.153),(0.30,0.107),(0.374,0.061),(0.42,0.026),
            (0.49,0.005),(0.56,0.0),(0.63,-0.01),(0.70,-0.041),(0.77,-0.061),(0.844,-0.071),(0.94,-0.061),(1.03,-0.031),(1.13,-0.031),(1.197,-0.01),
            (1.29,0.0),(1.387,-0.01),(1.455,-0.041),(1.55,-0.082),(1.62,-0.061),(1.71,-0.041),(1.81,-0.061),(1.90,-0.061),(2.0,-0.071),(2.11,-0.082),
            (2.21,-0.082),(2.29,-0.064),(2.41,-0.023),(2.525,0.009),(2.64,0.025),(2.76,0.041),(2.88,0.057),(2.97,0.097),(3.065,0.121),(3.16,0.113),
            (3.25,0.097),(3.32,0.049),(3.39,0.001),(3.46,-0.024),(3.58,-0.007),(3.68,-0.056),(3.77,-0.12),(3.86,-0.08),(3.96,-0.056),(4.05,-0.072),
            (4.15,-0.056),(4.24,-0.032),(4.33,-0.016),(4.43,-0.007),(4.52,-0.016),(4.62,-0.056),(4.71,-0.072),(4.80,-0.08),(4.90,-0.064),(4.99,-0.06),
            (5.09,-0.064),(5.205,-0.007),(5.32,0.041),(5.44,0.041),(5.56,0.033),(5.68,0.041),(5.79,0.017),(5.91,0.017),(5.98,0.073),(6.07,0.057),
            (6.17,0.025),(6.26,0.025),(6.38,0.033),(6.50,0.041),(6.61,0.049),(6.73,0.081),(6.83,0.049),(6.92,0.033),(7.02,0.025),(7.11,0.001),
            (7.21,0.001),(7.32,-0.024),(7.44,-0.048),(7.51,-0.032),(7.63,-0.016),(7.75,0.009),(7.86,0.033),(7.98,0.049),(8.09,0.009),(8.21,0.001),
            (8.33,0.001),(8.45,0.033),(8.57,0.025),(8.68,0.009),(8.75,-0.056),(8.85,-0.08),(8.94,-0.104),(9.04,-0.104),(9.13,-0.088),(9.23,-0.04),
            (9.32,-0.056),(9.41,-0.064),(9.51,-0.024),(9.62,0.041),(9.74,0.049),(9.86,0.073),(9.97,0.033)]
acf_noise = [(0.0,0.02),(0.045,-0.07),(0.09,0.0),(0.2,0.005),(0.4,0.0),(0.6,0.008),(0.8,-0.005),(1.0,0.004),(1.2,0.0),(1.4,0.006),(1.6,-0.004),
             (1.8,0.003),(2.0,0.0),(2.2,0.005),(2.4,-0.003),(2.6,0.004),(2.8,0.0),(3.0,0.006),(3.2,-0.005),(3.4,0.002),(3.6,0.005),(3.8,-0.004),
             (4.0,0.0),(4.2,0.006),(4.4,0.002),(4.6,-0.003),(4.8,0.005),(5.0,0.0),(5.2,0.004),(5.4,-0.004),(5.6,0.003),(5.8,0.0),(6.0,0.005),
             (6.2,-0.002),(6.4,0.004),(6.6,0.0),(6.8,0.006),(7.0,-0.003),(7.2,0.002),(7.4,0.005),(7.6,-0.004),(7.8,0.003),(8.0,0.0),(8.2,0.005),
             (8.4,-0.002),(8.6,0.004),(8.8,0.0),(9.0,0.006),(9.2,-0.004),(9.4,0.002),(9.6,0.005),(9.8,-0.003),(10.0,0.002)]

background_series = [("teal", teal), ("dodger", dodger), ("skyblue", skyblue), ("maroon", maroon),
                     ("darkgreen", darkgreen), ("brown", brown), ("salmon", salmon), ("mpurple", mpurple),
                     ("ygreen", ygreen), ("mvred", mvred), ("steel", steel)]
main_series = [("purple", purple), ("pink", pink), ("gray", gray), ("orange", orange), ("olive", olive),
               ("cyan", cyan), ("magenta", magenta), ("yellow", yellow), ("navy", navy), ("blue", blue),
               ("red", red), ("green", green)]

# ---------------- ACF minima / maxima (tau [d], time resolution [min], series) ----------------
min_tau = [0.124, 0.146, 0.170, 0.204, 0.302, 0.374, 0.396, 0.483, 0.506, 0.732, 0.744, 0.770,
           0.955, 0.970, 1.144, 1.182, 1.174, 1.568, 1.590, 1.832, 1.636, 1.613, 1.840, 1.605, 1.840,
           2.149, 2.142, 2.198, 2.595, 2.663, 3.418,
           3.808, 3.808, 3.819, 3.823, 3.815, 3.789, 3.777, 3.770, 3.762,
           4.019, 4.038, 4.038, 4.030,
           4.648, 4.634, 4.680, 4.750, 4.750, 4.760, 4.770, 4.837, 5.030, 4.830, 7.435,
           9.054, 9.070, 8.990, 8.990, 8.990, 9.050, 9.030, 9.040, 9.020]
min_res = [261, 315, 378, 453, 658, 658, 800, 946, 1140, 1368, 1656, 2005,
           2863, 2384, 2384, 4160, 3470, 2863, 2384, 2384, 5034, 4160, 4160, 3470, 3470,
           7280, 5985, 1368, 946, 946, 453,
           7280, 5985, 5034, 4160, 2863, 2005, 1656, 1368, 1140,
           7280, 5034, 4160, 2863,
           7280, 5985, 5034, 5034, 4160, 3470, 2384, 1368, 1368, 1140, 1368,
           7280, 5985, 5034, 4160, 3470, 2863, 2384, 2005, 1656]
min_series = ["skyblue", "darkgreen", "maroon", "dodger", "teal", "teal", "brown", "pink", "navy", "gray", "purple", "orange",
              "cyan", "olive", "olive", "yellow", "magenta", "cyan", "olive", "olive", "blue", "yellow", "yellow", "magenta", "magenta",
              "red", "green", "gray", "pink", "pink", "dodger",
              "red", "green", "blue", "yellow", "cyan", "orange", "purple", "gray", "navy",
              "red", "blue", "yellow", "cyan",
              "red", "green", "blue", "blue", "yellow", "magenta", "olive", "gray", "gray", "navy", "gray",
              "red", "green", "blue", "yellow", "magenta", "cyan", "olive", "orange", "purple"]
min_marks = [0.31, 1.60, 3.80, 4.03, 4.73, 9.03]

max_tau = [0.604, 1.254, 1.281, 1.348,
           3.094, 3.086, 3.090, 3.063, 3.082, 3.079, 3.086, 3.079, 3.082, 3.214,
           4.325, 4.401, 4.495, 4.941, 5.425,
           6.048, 6.037, 6.037, 6.378, 6.359, 6.554, 6.724, 6.532, 6.649, 6.539, 6.691, 6.543, 6.706, 6.740,
           7.998, 8.270, 8.455, 7.971, 8.493, 9.211, 9.653, 9.710,
           9.953, 9.938, 9.912, 9.900, 9.893, 9.874]
max_res = [453, 946, 1135, 1365,
           4965, 4140, 3430, 2860, 2360, 1972, 1645, 1365, 1135, 946,
           1135, 1135, 946, 378, 1135,
           4965, 4140, 3430, 4140, 3430, 7160, 7160, 4965, 4965, 4140, 4140, 3430, 3430, 1365,
           1972, 1972, 1972, 1645, 1365, 453, 1365, 1365,
           4965, 4140, 3430, 2860, 2360, 1972]
max_series = ["dodger", "pink", "navy", "gray",
              "blue", "yellow", "magenta", "cyan", "olive", "orange", "purple", "gray", "navy", "pink",
              "navy", "navy", "pink", "maroon", "navy",
              "blue", "yellow", "magenta", "yellow", "magenta", "red", "red", "blue", "blue", "yellow", "yellow", "magenta", "magenta", "gray",
              "orange", "orange", "orange", "purple", "gray", "dodger", "gray", "gray",
              "blue", "yellow", "magenta", "cyan", "olive", "orange"]
max_marks = [3.08, 6.63, 9.92]

X_TICKS = [0, 2, 4, 6, 8, 10]
X_MINOR = [i * 0.5 for i in range(21)]
ACF_TICKS = [-0.5, 0.0, 0.5, 1.0]
ACF_MINOR = [round(-0.8 + 0.1 * i, 1) for i in range(21)]
RES_TICKS = [100, 1000, 10000]
RES_MINOR = [200, 300, 400, 500, 600, 700, 800, 900, 2000, 3000, 4000, 5000, 6000, 7000, 8000, 9000, 20000]


def tick_style(ax, ml, mn):
    ax.major_tick_in = ml
    ax.major_tick_out = 0
    ax.minor_tick_in = mn
    ax.minor_tick_out = 0
    ax.major_tick_line_width = 2.5
    ax.minor_tick_line_width = 2.5
    ax.major_tick_line_color = "black"
    ax.minor_tick_line_color = "black"
    ax.axis_line_width = 3
    ax.axis_line_color = "black"


def style(p, xmaj, xmin, ymaj, ymin, log, yfmt, x_std, x_title_std, y_title_std, y_title_size):
    p.xgrid.visible = False
    p.ygrid.visible = False
    p.outline_line_color = "black"
    p.outline_line_width = 3
    p.background_fill_color = "white"
    p.border_fill_color = "white"
    yticks = RES_TICKS if log else ACF_TICKS
    yminor = RES_MINOR if log else ACF_MINOR
    xa = p.xaxis[0]
    ya = p.yaxis[0]
    xa.ticker = FixedTicker(ticks=X_TICKS, minor_ticks=X_MINOR)
    ya.ticker = FixedTicker(ticks=yticks, minor_ticks=yminor)
    ya.formatter = PrintfTickFormatter(format=yfmt)
    xa.formatter = PrintfTickFormatter(format="%d")
    tick_style(xa, xmaj, xmin)
    tick_style(ya, ymaj, ymin)
    for ax in (xa, ya):
        ax.major_label_text_font = FONT
        ax.major_label_text_font_size = "48px"
        ax.major_label_text_color = "black"
        ax.axis_label_text_font = FONT
        ax.axis_label_text_font_size = "50px"
        ax.axis_label_text_font_style = "normal"
        ax.axis_label_text_color = "black"
    ya.axis_label_text_font_size = y_title_size
    xa.axis_label = "τ (d)"
    xa.major_label_standoff = x_std
    xa.axis_label_standoff = x_title_std
    ya.major_label_standoff = 15
    ya.axis_label_standoff = y_title_std
    # unlabelled mirror axes carrying the ticks on top and right
    top = LinearAxis(ticker=FixedTicker(ticks=X_TICKS, minor_ticks=X_MINOR))
    right = (LogAxis if log else LinearAxis)(ticker=FixedTicker(ticks=yticks, minor_ticks=yminor))
    tick_style(top, xmaj, xmin)
    tick_style(right, ymaj, ymin)
    for ax in (top, right):
        ax.major_label_text_font_size = "1px"
        ax.major_label_text_color = None
        ax.major_label_standoff = 0
    p.add_layout(top, "above")
    p.add_layout(right, "right")


def unzip(pairs):
    return [a for a, _ in pairs], [b for _, b in pairs]


# ---------------- top panel: ACF curves ----------------
p1 = figure(frame_width=1418, frame_height=826, x_range=(0, 10), y_range=(-0.8, 1.2),
            output_backend="svg", toolbar_location=None,
            min_border_left=229, min_border_right=24, min_border_top=6, min_border_bottom=168)
style(p1, 17, 9, 29, 15, False, "%.1f", 24, 12, 28, "50px")
p1.yaxis[0].axis_label = "ACF"

for name, pairs in background_series + main_series:
    xs, ys = unzip(pairs)
    p1.line(xs, ys, line_color=COLORS[name], line_width=2)
    p1.scatter(xs, ys, size=6, color=COLORS[name])
xs, ys = unzip(acf_noise)
p1.line(xs, ys, line_color="black", line_width=2)
p1.scatter(xs, ys, size=6, color="black")
xs, ys = unzip(acf_mean)
p1.line(xs, ys, line_color="black", line_width=5)
p1.scatter(xs, ys, size=16, color="black")


def dots_panel(taus, res, series, marks, dash, label, fh, border_top, border_bottom, x_std, x_title_std):
    p = figure(frame_width=1418, frame_height=fh, x_range=(0, 10), y_range=(100, 20000),
               y_axis_type="log", output_backend="svg", toolbar_location=None,
               min_border_left=229, min_border_right=24, min_border_top=border_top,
               min_border_bottom=border_bottom)
    style(p, 10, 5, 29, 15, True, "%d", x_std, x_title_std, 28, "46px")
    p.yaxis[0].axis_label = "time resolution (min)"
    for m in marks:
        p.add_layout(Span(location=m, dimension="height", line_color="black",
                          line_width=2, line_dash=dash))
    cols = [COLORS[s] for s in series]
    p.scatter(taus, res, size=22, color=cols, line_color=None)
    p.text(x=[0.21], y=[9500], text=[label], text_font=value(FONT), text_font_size=value("44px"),
           text_baseline="alphabetic", text_align="left", text_color="black")
    return p


p2 = dots_panel(min_tau, min_res, min_series, min_marks, "38 20", "ACF minima", 403, 68, 128, 25, 5)
p3 = dots_panel(max_tau, max_res, max_series, max_marks, "30 12 4 12", "ACF maxima", 401, 13, 132, 26, 8)

layout = column(p1, p2, p3, spacing=0)
open("out.html", "w").write(file_html(layout, INLINE))
